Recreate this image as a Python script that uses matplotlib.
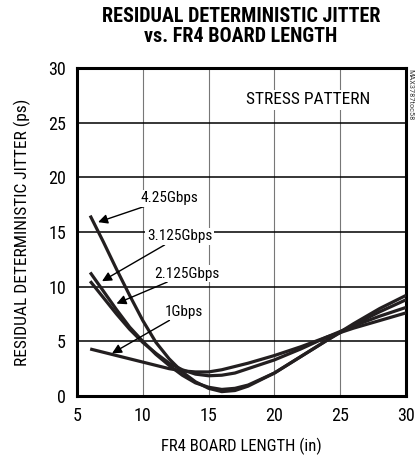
import matplotlib
matplotlib.use("Agg")
import matplotlib.pyplot as plt
from matplotlib import font_manager

# board length (in) sample points
length = [6, 7, 8, 9, 10, 11, 12, 13, 14, 15, 16, 17, 18, 20, 22, 24, 26, 28, 30]

# residual deterministic jitter (ps) per data rate
dj_425 = [16.5, 14.1, 11.6, 9.2, 6.9, 4.9, 3.4, 2.2, 1.3, 0.7, 0.4, 0.5, 0.9, 2.1, 3.6, 5.1, 6.6, 8.0, 9.2]
dj_3125 = [11.3, 9.6, 7.9, 6.3, 5.0, 3.8, 2.8, 1.9, 1.2, 0.8, 0.6, 0.7, 1.0, 2.1, 3.6, 5.1, 6.5, 7.7, 8.8]
dj_2125 = [10.5, 9.0, 7.5, 6.1, 4.9, 3.9, 3.0, 2.4, 2.0, 1.85, 1.9, 2.1, 2.5, 3.3, 4.3, 5.4, 6.4, 7.3, 8.1]
dj_1 = [4.3, 4.0, 3.7, 3.4, 3.1, 2.8, 2.5, 2.3, 2.2, 2.2, 2.4, 2.7, 3.0, 3.7, 4.5, 5.4, 6.2, 6.9, 7.6]

series = [dj_425, dj_3125, dj_2125, dj_1]
rate_labels = ["4.25Gbps", "3.125Gbps", "2.125Gbps", "1Gbps"]
# (text position, arrow tip) in data coords
label_pos = [((9.8, 18.1), (6.6, 15.9)),
             ((10.3, 14.6), (6.9, 10.5)),
             ((10.9, 11.2), (8.0, 8.45)),
             ((11.7, 7.7), (7.66, 3.9))]

x_ticks = [5, 10, 15, 20, 25, 30]
y_ticks = [0, 5, 10, 15, 20, 25, 30]

installed = {f.name for f in font_manager.fontManager.ttflist}
narrow = [f for f in ["Roboto Condensed", "Liberation Sans Narrow", "Roboto"]
          if f in installed] + ["DejaVu Sans"]
plt.rcParams["font.family"] = narrow

fig = plt.figure(figsize=(4.17, 4.57), dpi=100)
ax = fig.add_axes([0.1847, 0.1335, 0.7889, 0.7177])

ax.set_xlim(5, 30)
ax.set_ylim(0, 30)
ax.set_xticks(x_ticks)
ax.set_yticks(y_ticks)
ax.tick_params(length=0, labelsize=13, pad=8)

for v in x_ticks[1:-1]:
    ax.axvline(v, color="#777777", lw=0.8, zorder=1)
for v in y_ticks[1:-1]:
    ax.axhline(v, color="black", lw=1.1, zorder=1)

for s in ax.spines.values():
    s.set_linewidth(2.2)

for ys in series:
    ax.plot(length, ys, color="#231f20", lw=2.3, solid_capstyle="butt", zorder=3)

for text, ((tx, ty), (hx, hy)) in zip(rate_labels, label_pos):
    ax.annotate(text, xy=(hx, hy), xytext=(tx, ty), fontsize=11,
                ha="left", va="center",
                bbox=dict(boxstyle="square,pad=0.1", fc="white", ec="none"),
                arrowprops=dict(arrowstyle="-|>", color="black", lw=1.0,
                                mutation_scale=14, shrinkA=0, shrinkB=0),
                zorder=4)

ax.text(22.55, 27.1, "STRESS PATTERN", fontsize=12.5, ha="center", va="center",
        bbox=dict(boxstyle="square,pad=0.15", fc="white", ec="none"), zorder=4)

ax.set_xlabel("FR4 BOARD LENGTH (in)", fontsize=12, labelpad=9)
ax.set_ylabel("RESIDUAL DETERMINISTIC JITTER (ps)", fontsize=12.5, labelpad=12)

fig.text(0.578, 0.985, "RESIDUAL DETERMINISTIC JITTER\nvs. FR4 BOARD LENGTH",
         ha="center", va="top", fontsize=14.5, fontweight="heavy", linespacing=1.05)

fig.text(0.985, 0.85, "MAX3787toc58", rotation=270, ha="center", va="top",
         fontsize=6, color="#444444")

fig.savefig("out.png", dpi=100)
